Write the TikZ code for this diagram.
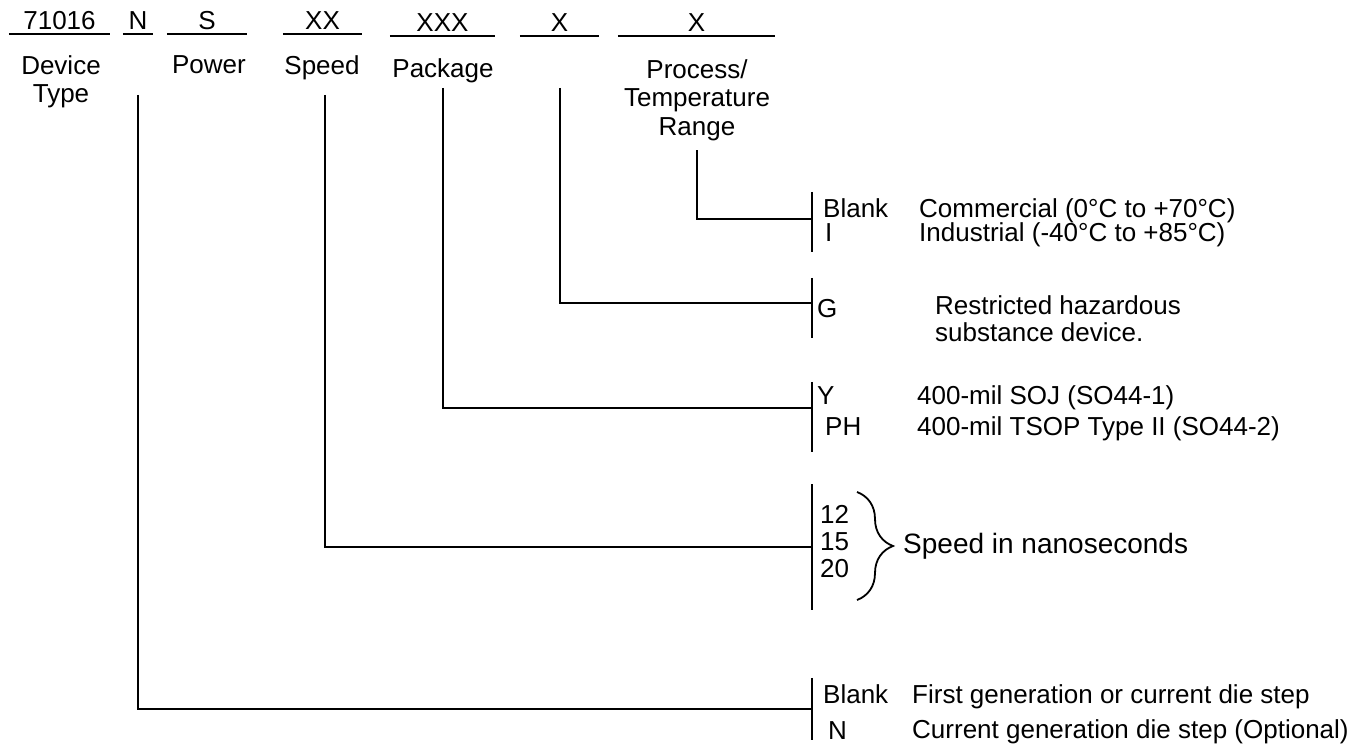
\documentclass[tikz,border=0pt]{standalone}
\usepackage{fontspec}
\setmainfont{Liberation Sans}
\usetikzlibrary{positioning, decorations.pathreplacing}

\begin{document}
\begin{tikzpicture}[
    x=1pt, y=-1pt,
    font=\fontsize{26}{28.5}\selectfont,
    codefield/.style={anchor=south, minimum width=#1, inner xsep=0pt, inner ysep=4pt},
    headtext/.style={anchor=north, inner sep=0pt, align=center},
    optbar/.style={minimum width=0pt, minimum height=#1, inner sep=0pt},
    optcode/.style={anchor=base west, inner sep=0pt},
    optdesc/.style={anchor=base west, inner sep=0pt},
    wire/.style={line width=2pt},
    curly/.style={line width=1.8pt, decorate, decoration={brace, amplitude=36pt}},
]
\useasboundingbox (0,0) rectangle (1364,749);

% Part number fields
\node[codefield=101pt] (devcode) at (59.5,34) {71016};
\node[codefield=30pt] (gencode) at (138,34) {N};
\node[codefield=80pt] (pwrcode) at (207,34) {S};
\node[codefield=79pt] (spdcode) at (322.5,34) {XX};
\node[codefield=105pt] (pkgcode) at (442.5,36) {XXX};
\node[codefield=79pt] (rohscode) at (559.5,36) {X};
\node[codefield=157pt] (tempcode) at (696.5,36) {X};
\foreach \c in {devcode,gencode,pwrcode,spdcode,pkgcode,rohscode,tempcode}
    \draw[wire] (\c.south west) -- (\c.south east);

% Field names
\node[headtext] (devhead) at (61,55) {Device\\Type};
\node[headtext] (pwrhead) at (209,55) {Power};
\node[headtext] (spdhead) at (322,55) {Speed};
\node[headtext] (pkghead) at (443,58) {Package};
\node[headtext] (temphead) at (697,59) {Process/\\Temperature\\Range};

% Leader starts
\coordinate (gentop) at (138,95);
\coordinate (spdtop) at (325,95);
\coordinate (pkgtop) at (443,88);
\coordinate (rohstop) at (560,88);
\coordinate (temptop) at (697,150);

% Option bars
\node[optbar=60pt] (tempbar) at (812,222) {};
\node[optbar=60pt] (rohsbar) at (812,308) {};
\node[optbar=70pt] (pkgbar) at (812,417) {};
\node[optbar=125pt] (spdbar) at (812,547) {};
\node[optbar=62pt] (genbar) at (812,709) {};
\foreach \b in {tempbar,rohsbar,pkgbar,spdbar,genbar}
    \draw[wire] (\b.north) -- (\b.south);

% Options and meanings
\node[optcode] (tblank) at (823,217) {Blank};
\node[optcode] (tind) at (825,241) {I};
\node[optdesc] (tcomdesc) at (919,217) {Commercial (0°C to +70°C)};
\node[optdesc] (tinddesc) at (919,241) {Industrial (-40°C to +85°C)};

\node[optcode] (rg) at (817,317) {G};
\node[optdesc] (rgdesc) at (935,314) {Restricted hazardous};
\node[optdesc] (rgdesc2) at (935,341) {substance device.};

\node[optcode] (py) at (817,404) {Y};
\node[optcode] (pph) at (825,435) {PH};
\node[optdesc] (pydesc) at (917,404) {400-mil SOJ (SO44-1)};
\node[optdesc] (pphdesc) at (917,435) {400-mil TSOP Type II (SO44-2)};

\node[optcode] (s12) at (820,523) {12};
\node[optcode] (s15) at (820,550) {15};
\node[optcode] (s20) at (820,577) {20};
\draw[curly] (857,492) -- (857,600);
\node[optdesc, font=\fontsize{28}{30}\selectfont] (spddesc) at (903,553) {Speed in nanoseconds};

\node[optcode] (gblank) at (823,703) {Blank};
\node[optcode] (gn) at (828,739) {N};
\node[optdesc] (gblankdesc) at (912,703) {First generation or current die step};
\node[optdesc] (gndesc) at (912,738) {Current generation die step (Optional)};

% Leaders
\draw[wire] (temptop) |- ([yshift=3pt]tempbar.west);
\draw[wire] (rohstop) |- ([yshift=5pt]rohsbar.west);
\draw[wire] (pkgtop) |- ([yshift=9pt]pkgbar.west);
\draw[wire] (spdtop) |- (spdbar.west);
\draw[wire] (gentop) |- (genbar.west);

\end{tikzpicture}
\end{document}
